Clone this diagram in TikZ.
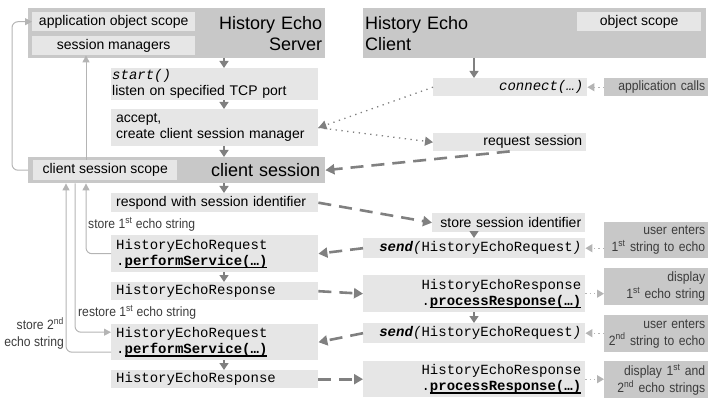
\documentclass[tikz,border=0pt]{standalone}
\usepackage{fontspec}
\setmainfont{Liberation Sans}
\setmonofont{Liberation Mono}
\newfontfamily\narrowfont[FakeStretch=0.9]{Liberation Sans}
\usetikzlibrary{arrows.meta}

\definecolor{outergray}{HTML}{C8C8C8}
\definecolor{boxgray}{HTML}{E6E6E6}
\definecolor{arrowgray}{HTML}{808080}
\definecolor{linegray}{HTML}{B4B4B4}
\definecolor{notegray}{HTML}{3C3C3C}

\newcommand\bodyfont{\fontsize{14}{16}\selectfont}
\newcommand\titlefont{\fontsize{18}{21}\selectfont}
\newcommand\notefont{\narrowfont\fontsize{13.5}{17}\selectfont}
\newcommand\ulcall[1]{\setbox0\hbox{#1}\rlap{\rule[-3pt]{\wd0}{1.4pt}}\box0}

\tikzset{
  outer/.style={fill=outergray, anchor=north west, inner ysep=0pt, font=\titlefont},
  inbox/.style={fill=boxgray, anchor=north west, inner sep=0pt, font=\bodyfont, minimum width=#1, minimum height=19pt},
  sbox/.style={fill=boxgray, anchor=north west, inner xsep=5pt, inner ysep=0pt, minimum width=207pt, text width=197pt, align=left, font=\bodyfont},
  cbox/.style={fill=boxgray, anchor=north west, inner xsep=4pt, inner ysep=0pt, minimum width=#1, text width=#1-8pt, align=right, font=\bodyfont},
  lbl/.style={fill=outergray, anchor=north west, inner xsep=3pt, inner ysep=0pt, minimum width=104pt, text width=98pt, align=right, font=\notefont, text=notegray},
  code/.style={font=\bodyfont\ttfamily},
  note/.style={font=\notefont, text=notegray, inner sep=0pt},
  flow/.style={draw=arrowgray, line width=1.3pt, -{Triangle[width=9pt,length=7pt]}},
  call/.style={draw=arrowgray, line width=1.3pt, dash pattern=on 1.3pt off 4.5pt, -{Triangle[width=9pt,length=8pt]}},
  msg/.style={draw=arrowgray, line width=2.6pt, dash pattern=on 13pt off 8pt, -{Triangle[width=10pt,length=9pt]}},
  ui/.style={draw=linegray, line width=1.3pt, dash pattern=on 1.3pt off 3pt, -{Triangle[width=8pt,length=7pt]}},
  scopeline/.style={draw=linegray, line width=1pt, rounded corners=6pt, -{Triangle[width=7pt,length=7pt]}}
}

\begin{document}
\begin{tikzpicture}[x=1pt, y=-1pt]
  \useasboundingbox (0,0) rectangle (717,406);

  % server and client frames
  \node[outer, minimum width=297pt, minimum height=50pt, text width=291pt, inner xsep=3pt, align=right] (server) at (28,8) {History Echo\\Server};
  \node[outer, minimum width=343pt, minimum height=50pt, text width=339pt, inner xsep=2pt, align=left] (client) at (363,8) {History Echo\\Client};
  \node[outer, minimum width=297pt, minimum height=26pt, text width=287pt, inner xsep=5pt, align=right] (sess) at (28,157) {client session};

  \node[inbox=163pt] (appscope) at (32,12) {application object scope};
  \node[inbox=163pt] (sessmgr) at (32,36) {session managers};
  \node[inbox=124pt] (objscope) at (577,12) {object scope};
  \node[inbox=144pt, minimum height=20pt] (csscope) at (33,160) {client session scope};

  % server steps
  \node[sbox, inner xsep=1pt, text width=205pt, minimum height=32pt] (start) at (111,68) {\ttfamily\itshape start()\\\normalfont\bodyfont listen on specified TCP port};
  \node[sbox, minimum height=37pt] (accept) at (111,109) {accept,\\create client session manager};
  \node[sbox, minimum height=19pt] (respond) at (111,193) {respond with session identifier};
  \node[sbox, code, minimum height=37pt] (req1) at (111,235) {HistoryEchoRequest\\.\ulcall{\textbf{performService(…)}}};
  \node[sbox, code, minimum height=18pt] (resp1) at (111,282) {HistoryEchoResponse};
  \node[sbox, code, minimum height=36pt] (req2) at (111,324) {HistoryEchoRequest\\.\ulcall{\textbf{performService(…)}}};
  \node[sbox, code, minimum height=18pt] (resp2) at (111,370) {HistoryEchoResponse};

  % client steps
  \node[cbox=154pt, code, minimum height=18pt] (connect) at (433,78) {\itshape connect(…)};
  \node[cbox=153pt, minimum height=18pt] (reqsess) at (433,133) {request session};
  \node[cbox=153pt, minimum height=19pt] (storeid) at (432,213) {store session identifier};
  \node[cbox=222pt, code, minimum height=20pt] (send1) at (363,238) {\textbf{\textit{send}}\textit{(}HistoryEchoRequest\textit{)}};
  \node[cbox=222pt, code, minimum height=37pt] (proc1) at (363,275) {HistoryEchoResponse\\.\ulcall{\textbf{processResponse(…)}}};
  \node[cbox=222pt, code, minimum height=20pt] (send2) at (363,323) {\textbf{\textit{send}}\textit{(}HistoryEchoRequest\textit{)}};
  \node[cbox=222pt, code, minimum height=36pt] (proc2) at (363,361) {HistoryEchoResponse\\.\ulcall{\textbf{processResponse(…)}}};

  % user side
  \node[lbl, minimum height=18pt] (appcalls) at (604,78) {application calls};
  \node[lbl, minimum height=36pt] (user1) at (604,222) {user enters\\1\textsuperscript{st} string to echo};
  \node[lbl, minimum height=37pt] (disp1) at (604,268) {display\\1\textsuperscript{st} echo string};
  \node[lbl, minimum height=37pt] (user2) at (604,315) {user enters\\2\textsuperscript{nd} string to echo};
  \node[lbl, minimum height=37pt] (disp2) at (604,361) {display 1\textsuperscript{st} and\\2\textsuperscript{nd} echo strings};

  % notes on the scope lines
  \node[note, anchor=west] (store1) at (88,224) {store 1\textsuperscript{st} echo string};
  \node[note, anchor=west] (restore1) at (78,312) {restore 1\textsuperscript{st} echo string};
  \node[note, anchor=east, align=right] (store2) at (64,333.5) {store 2\textsuperscript{nd}\\echo string};

  \coordinate (scol) at (224,0);
  \coordinate (ccol) at (474,0);
  \coordinate (loop) at (12,0);
  \coordinate (l1) at (86,0);
  \coordinate (l2) at (75,0);
  \coordinate (l3) at (66,0);

  % flow down each side
  \foreach \a/\b in {server/start, start/accept, accept/sess, sess/respond, req1/resp1, req2/resp2}
    \draw[flow] (\a.south -| scol) -- (\b.north -| scol);
  \foreach \a/\b in {client/connect, storeid/send1, proc1/send2}
    \draw[flow] (\a.south -| ccol) -- (\b.north -| ccol);

  % between client and server
  \draw[call] (connect.west) -- (accept.east);
  \draw[call] (accept.east) -- (reqsess.west);
  \draw[msg] (reqsess.south) -- (sess.east);
  \draw[msg] (respond.east) -- (storeid.west);
  \draw[msg] (send1.west) -- (req1.east);
  \draw[msg] (resp1.east) -- (proc1.west);
  \draw[msg] (send2.west) -- (req2.east);
  \draw[msg] (resp2.east) -- (proc2.west);

  % user input and output
  \draw[ui] (appcalls.west) -- (connect.east);
  \draw[ui] (user1.west |- send1) -- (send1.east);
  \draw[ui] (proc1.east) -- (proc1.east -| disp1.west);
  \draw[ui] (user2.west |- send2) -- (send2.east);
  \draw[ui] (proc2.east) -- (proc2.east -| disp2.west);

  % scopes
  \draw[scopeline] (sess.west) -- (sess.west -| loop) |- (appscope.west);
  \draw[scopeline] (csscope.north -| l1) -- (sessmgr.south -| l1);
  \draw[scopeline] (req1.west) -| (sess.south -| l1);
  \draw[scopeline] (sess.south -| l2) |- ([yshift=10pt]req2.west);
  \draw[scopeline] ([yshift=-10pt]req2.west) -| (sess.south -| l3);
\end{tikzpicture}
\end{document}
